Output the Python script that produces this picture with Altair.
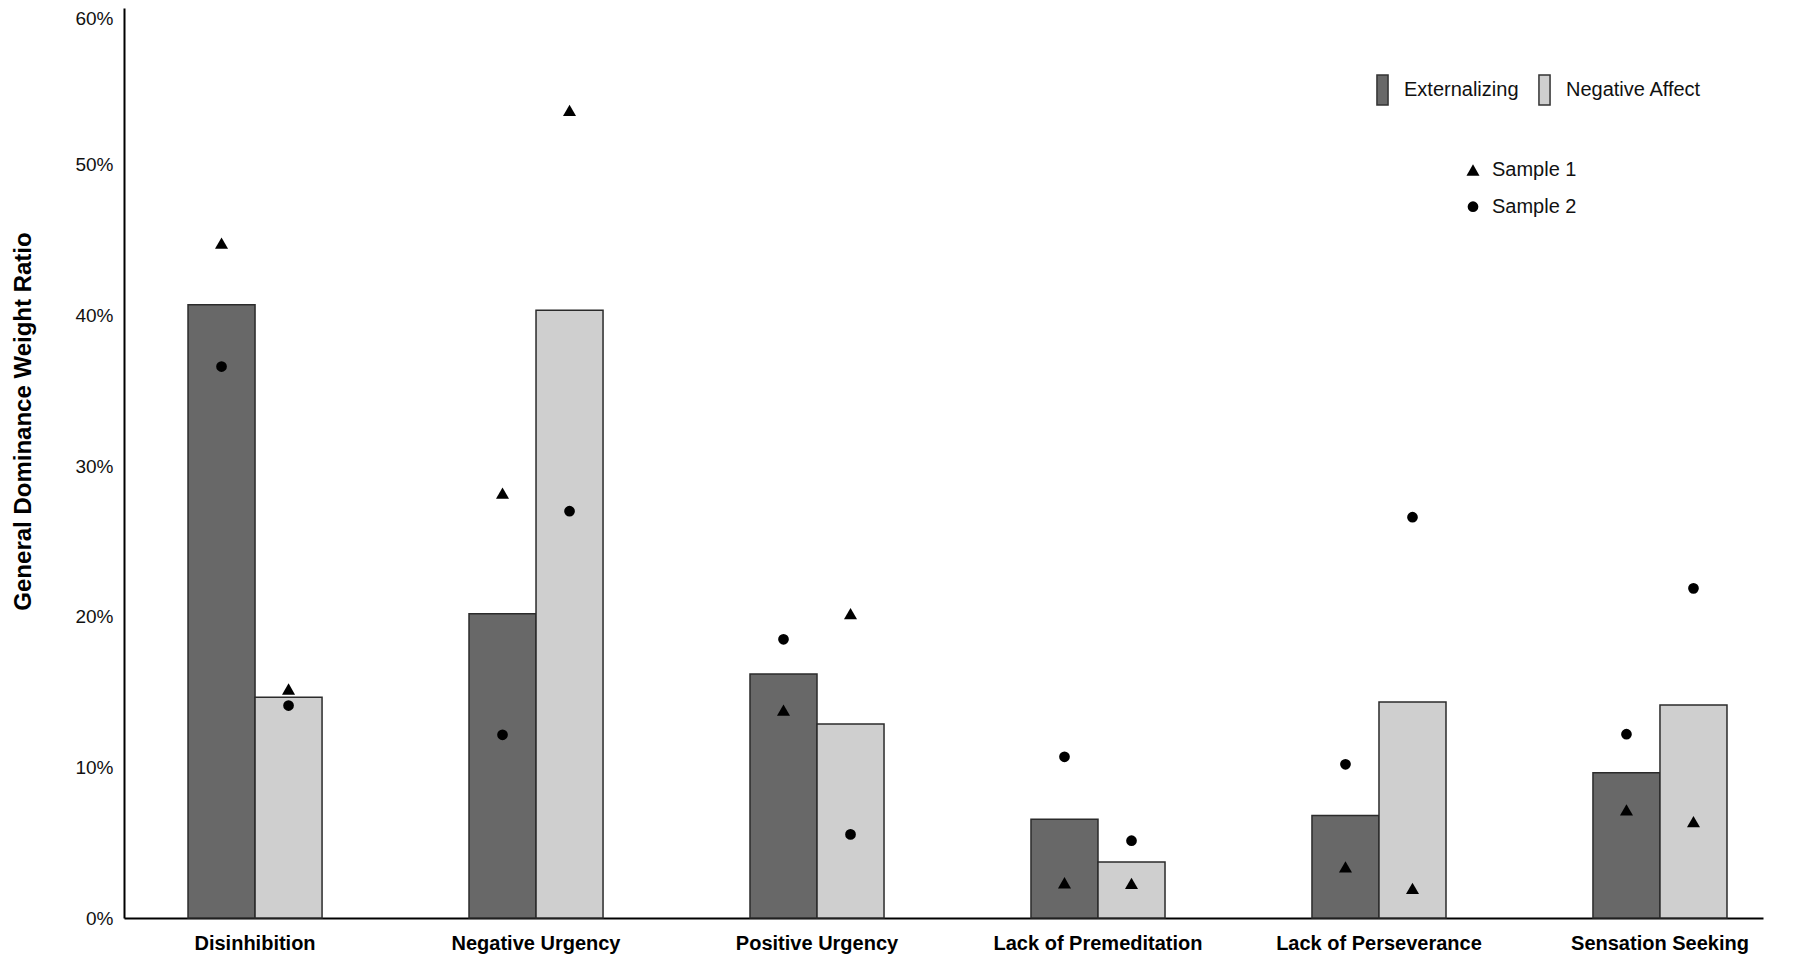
import altair as alt
import pandas as pd

categories = ["Disinhibition", "Negative Urgency", "Positive Urgency",
              "Lack of Premeditation", "Lack of Perseverance", "Sensation Seeking"]
groups = ["Externalizing", "Negative Affect"]
samples = ["Sample 1", "Sample 2"]

ext_bar = [0.407, 0.202, 0.162, 0.0655, 0.068, 0.0964]
na_bar = [0.1466, 0.4034, 0.1287, 0.0372, 0.1433, 0.1413]
ext_s1 = [0.448, 0.282, 0.138, 0.0234, 0.034, 0.0717]
ext_s2 = [0.366, 0.1216, 0.185, 0.107, 0.102, 0.122]
na_s1 = [0.152, 0.536, 0.202, 0.023, 0.0197, 0.0639]
na_s2 = [0.141, 0.270, 0.0555, 0.0513, 0.266, 0.2188]

y_ticks = [0, 0.1, 0.2, 0.3, 0.4, 0.5, 0.6]

bar_rows = []
pt_rows = []
for i, c in enumerate(categories):
    bar_rows.append({"category": c, "group": groups[0], "value": ext_bar[i]})
    bar_rows.append({"category": c, "group": groups[1], "value": na_bar[i]})
    pt_rows.append({"category": c, "group": groups[0], "sample": samples[0], "value": ext_s1[i]})
    pt_rows.append({"category": c, "group": groups[0], "sample": samples[1], "value": ext_s2[i]})
    pt_rows.append({"category": c, "group": groups[1], "sample": samples[0], "value": na_s1[i]})
    pt_rows.append({"category": c, "group": groups[1], "sample": samples[1], "value": na_s2[i]})
bar_df = pd.DataFrame(bar_rows)
pt_df = pd.DataFrame(pt_rows)

FONT = "Liberation Sans, Arial, sans-serif"

x_enc = alt.X(
    "category:N", sort=categories,
    scale=alt.Scale(paddingInner=0.523, paddingOuter=0.178, align=0.64),
    axis=alt.Axis(title=None, labelAngle=0, ticks=False, domainColor="#000", domainWidth=2,
                  labelFont=FONT, labelFontWeight="bold", labelFontSize=20, labelColor="#000",
                  labelPadding=15, labelLimit=0),
)
xoff_enc = alt.XOffset("group:N", sort=groups, scale=alt.Scale(paddingInner=0, paddingOuter=0))
y_enc = alt.Y(
    "value:Q",
    scale=alt.Scale(domain=[0, 0.604], nice=False, zero=True),
    axis=alt.Axis(values=y_ticks, format=".0%", ticks=False, grid=False,
                  domainColor="#000", domainWidth=2,
                  labelFont=FONT, labelFontSize=19, labelColor="#111", labelPadding=11,
                  labelOffset={"condition": {"test": "datum.value >= 0.59", "value": 4}, "value": 0},
                  title="General Dominance Weight Ratio", titleFont=FONT, titleFontWeight="bold",
                  titleFontSize=24, titleColor="#000", titleAngle=270, titleX=-101, titleY=413,
                  titleAlign="center", titleBaseline="middle"),
)

bars = alt.Chart(bar_df).mark_bar(stroke="#2b2b2b", strokeWidth=1.5).encode(
    x=x_enc,
    xOffset=xoff_enc,
    y=y_enc,
    color=alt.Color(
        "group:N",
        scale=alt.Scale(domain=groups, range=["#686868", "#cfcfcf"]),
        legend=alt.Legend(title=None, orient="none", legendX=1242.5, legendY=66,
                          direction="horizontal",
                          symbolType="M-0.37,-1L0.37,-1L0.37,1L-0.37,1Z", symbolSize=900,
                          symbolStrokeColor="#333", symbolStrokeWidth=1.5, symbolOpacity=1,
                          labelFont=FONT, labelFontSize=20, labelColor="#111",
                          labelOffset=5.5, columnPadding=9, padding=0),
    ),
)

sample_legend = alt.Legend(title=None, orient="none", legendX=1339, legendY=152,
                           direction="vertical", symbolFillColor="black",
                           symbolStrokeWidth=0, labelFont=FONT, labelFontSize=20,
                           labelColor="#111", labelOffset=9, rowPadding=16.7, padding=0)

points = alt.Chart(pt_df).mark_point(filled=True, color="black", opacity=1).encode(
    x=alt.X("category:N", sort=categories),
    xOffset=alt.XOffset("group:N", sort=groups),
    y=alt.Y("value:Q"),
    size=alt.Size("sample:N", scale=alt.Scale(domain=samples, range=[170, 115]),
                  legend=sample_legend),
    shape=alt.Shape(
        "sample:N",
        scale=alt.Scale(domain=samples, range=["triangle-up", "circle"]),
        legend=sample_legend,
    ),
)

chart = alt.layer(bars, points).properties(
    width=1639, height=910,
    padding={"left": 116, "top": 0, "right": 16, "bottom": 38},
    autosize=alt.AutoSizeParams(type="none"),
).configure(background="white").configure_view(strokeWidth=0, stroke="transparent")

chart.save("out.html", embed_options={"renderer": "svg", "actions": False})
